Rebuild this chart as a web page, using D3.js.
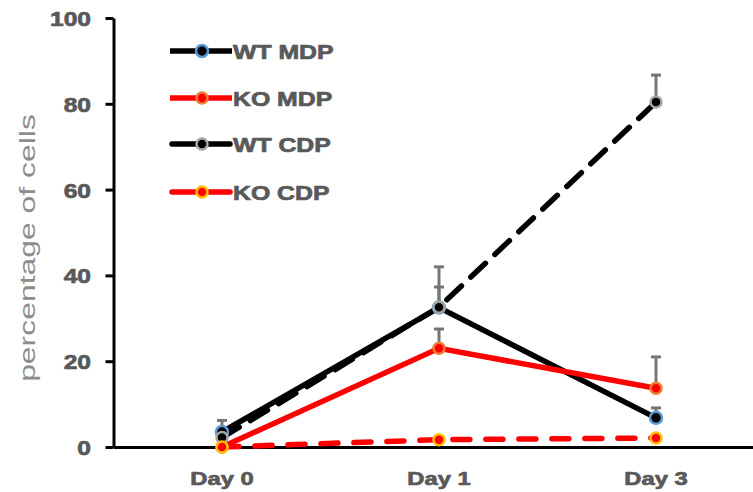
<!DOCTYPE html>
<html>
<head>
  <meta charset="utf-8">
  <script src="https://cdn.jsdelivr.net/npm/d3@7"></script>
  <style>
    body { margin: 0; background: #fff; }
    text { font-family: "Liberation Sans", Arial, sans-serif; }
  </style>
</head>
<body>
  <div id="chart"></div>
  <script>
    // data
    const days = ["Day 0", "Day 1", "Day 3"];
    const yTicks = [0, 20, 40, 60, 80, 100];
    const seriesNames = ["WT MDP", "KO MDP", "WT CDP", "KO CDP"];
    const wtMdp = [3.5, 32.5, 6.8];
    const koMdp = [0, 23, 13.7];
    const wtCdp = [2.2, 32.6, 80.4];
    const koCdp = [0, 1.7, 2.1];
    // upper error bar ends (null = none visible)
    const wtMdpErr = [6.2, 37.3, 9.1];
    const koMdpErr = [null, 27.5, 21];
    const wtCdpErr = [4, 42, 86.7];
    const koCdpErr = [null, null, null];

    const w = 753, h = 492;
    const x0 = 113.5, yTop = 18, yBot = 447;

    const styles = [
      { line: "#000", fill: "#000", ring: "#5b9bd5", dash: null, r: 6 },
      { line: "#ff0000", fill: "#ff0000", ring: "#ed7d31", dash: null, r: 5.5 },
      { line: "#000", fill: "#000", ring: "#a5a5a5", dash: "20,13", r: 5.5 },
      { line: "#ff0000", fill: "#ff0000", ring: "#ffc000", dash: "17,16", r: 5.5 }
    ];
    const values = [wtMdp, koMdp, wtCdp, koCdp];
    const errs = [wtMdpErr, koMdpErr, wtCdpErr, koCdpErr];

    const svg = d3.select("#chart").append("svg")
      .attr("width", w)
      .attr("height", h);

    const x = d3.scaleBand()
      .domain(days)
      .range([x0, x0 + 3 * 217]);

    const y = d3.scaleLinear()
      .domain([0, 100])
      .range([yBot, yTop]);

    const cx = d => x(d) + x.bandwidth() / 2;

    // stretch text a bit, like the source picture
    function stretch(sel, k) {
      sel.each(function () {
        const len = this.getComputedTextLength();
        d3.select(this).attr("textLength", len * k).attr("lengthAdjust", "spacingAndGlyphs");
      });
    }

    // y axis
    const yAxis = svg.append("g")
      .attr("transform", `translate(${x0},0)`)
      .call(d3.axisLeft(y).tickValues(yTicks).tickSize(8).tickSizeOuter(0).tickPadding(14.5));
    yAxis.select(".domain").attr("stroke", "#000").attr("stroke-width", 3);
    yAxis.selectAll(".tick line").attr("stroke", "#000").attr("stroke-width", 3);
    yAxis.selectAll(".tick text")
      .attr("fill", "#595959")
      .attr("stroke", "#595959")
      .attr("stroke-width", 0.7)
      .attr("font-size", 21)
      .attr("font-weight", "bold")
      .attr("dy", "0.36em")
      .call(stretch, 1.17);

    // x axis
    const xAxis = svg.append("g")
      .attr("transform", `translate(0,${yBot})`)
      .call(d3.axisBottom(x).tickSize(0).tickSizeOuter(0).tickPadding(0));
    xAxis.select(".domain").attr("stroke", "#000").attr("stroke-width", 3);
    xAxis.selectAll(".tick text")
      .attr("fill", "#595959")
      .attr("stroke", "#595959")
      .attr("stroke-width", 0.7)
      .attr("font-size", 19)
      .attr("font-weight", "bold")
      .attr("y", 38)
      .attr("dy", 0)
      .call(stretch, 1.25);

    // y title
    svg.append("text")
      .attr("transform", "translate(35,248) rotate(-90)")
      .attr("text-anchor", "middle")
      .attr("fill", "#8c8c8c")
      .attr("font-size", 22)
      .text("percentage of cells")
      .call(stretch, 1.45);

    // error bars
    errs.forEach((e, i) => {
      const g = svg.append("g").attr("stroke", "#767676").attr("stroke-width", 3);
      days.forEach((d, j) => {
        if (e[j] == null) return;
        g.append("line")
          .attr("x1", cx(d)).attr("x2", cx(d))
          .attr("y1", y(values[i][j])).attr("y2", y(e[j]));
        g.append("line")
          .attr("x1", cx(d) - 5).attr("x2", cx(d) + 5)
          .attr("y1", y(e[j])).attr("y2", y(e[j]));
      });
    });

    const line = d3.line()
      .x((v, j) => cx(days[j]))
      .y(v => y(v));

    values.forEach((vals, i) => {
      const s = styles[i];
      svg.append("path")
        .datum(vals)
        .attr("d", line)
        .attr("fill", "none")
        .attr("stroke", s.line)
        .attr("stroke-width", 5.5)
        .attr("stroke-linecap", s.dash ? "round" : "butt")
        .attr("stroke-dasharray", s.dash);
    });

    values.forEach((vals, i) => {
      const s = styles[i];
      svg.append("g").selectAll("circle")
        .data(vals)
        .enter()
        .append("circle")
        .attr("cx", (v, j) => cx(days[j]))
        .attr("cy", v => y(v))
        .attr("r", s.r)
        .attr("fill", s.fill)
        .attr("stroke", s.ring)
        .attr("stroke-width", 2.5);
    });

    // legend
    const legend = svg.append("g");
    const rowY = [51, 98, 144, 192];
    seriesNames.forEach((name, i) => {
      const s = styles[i];
      const g = legend.append("g").attr("transform", `translate(0,${rowY[i]})`);
      if (s.dash) {
        g.append("line").attr("x1", 172).attr("x2", 196).attr("y1", 0).attr("y2", 0)
          .attr("stroke", s.line).attr("stroke-width", 5.5).attr("stroke-linecap", "round");
        g.append("line").attr("x1", 208).attr("x2", 230).attr("y1", 0).attr("y2", 0)
          .attr("stroke", s.line).attr("stroke-width", 5.5).attr("stroke-linecap", "round");
      } else {
        g.append("line").attr("x1", 170).attr("x2", 232).attr("y1", 0).attr("y2", 0)
          .attr("stroke", s.line).attr("stroke-width", 5.5);
      }
      g.append("circle").attr("cx", 202).attr("cy", 0).attr("r", s.r)
        .attr("fill", s.fill).attr("stroke", s.ring).attr("stroke-width", 2.5);
      g.append("text")
        .attr("x", 233).attr("y", 7.5)
        .attr("fill", "#595959")
        .attr("stroke", "#595959")
        .attr("stroke-width", 0.7)
        .attr("font-size", 20)
        .attr("font-weight", "bold")
        .text(name)
        .call(stretch, 1.24);
    });
  </script>
</body>
</html>
